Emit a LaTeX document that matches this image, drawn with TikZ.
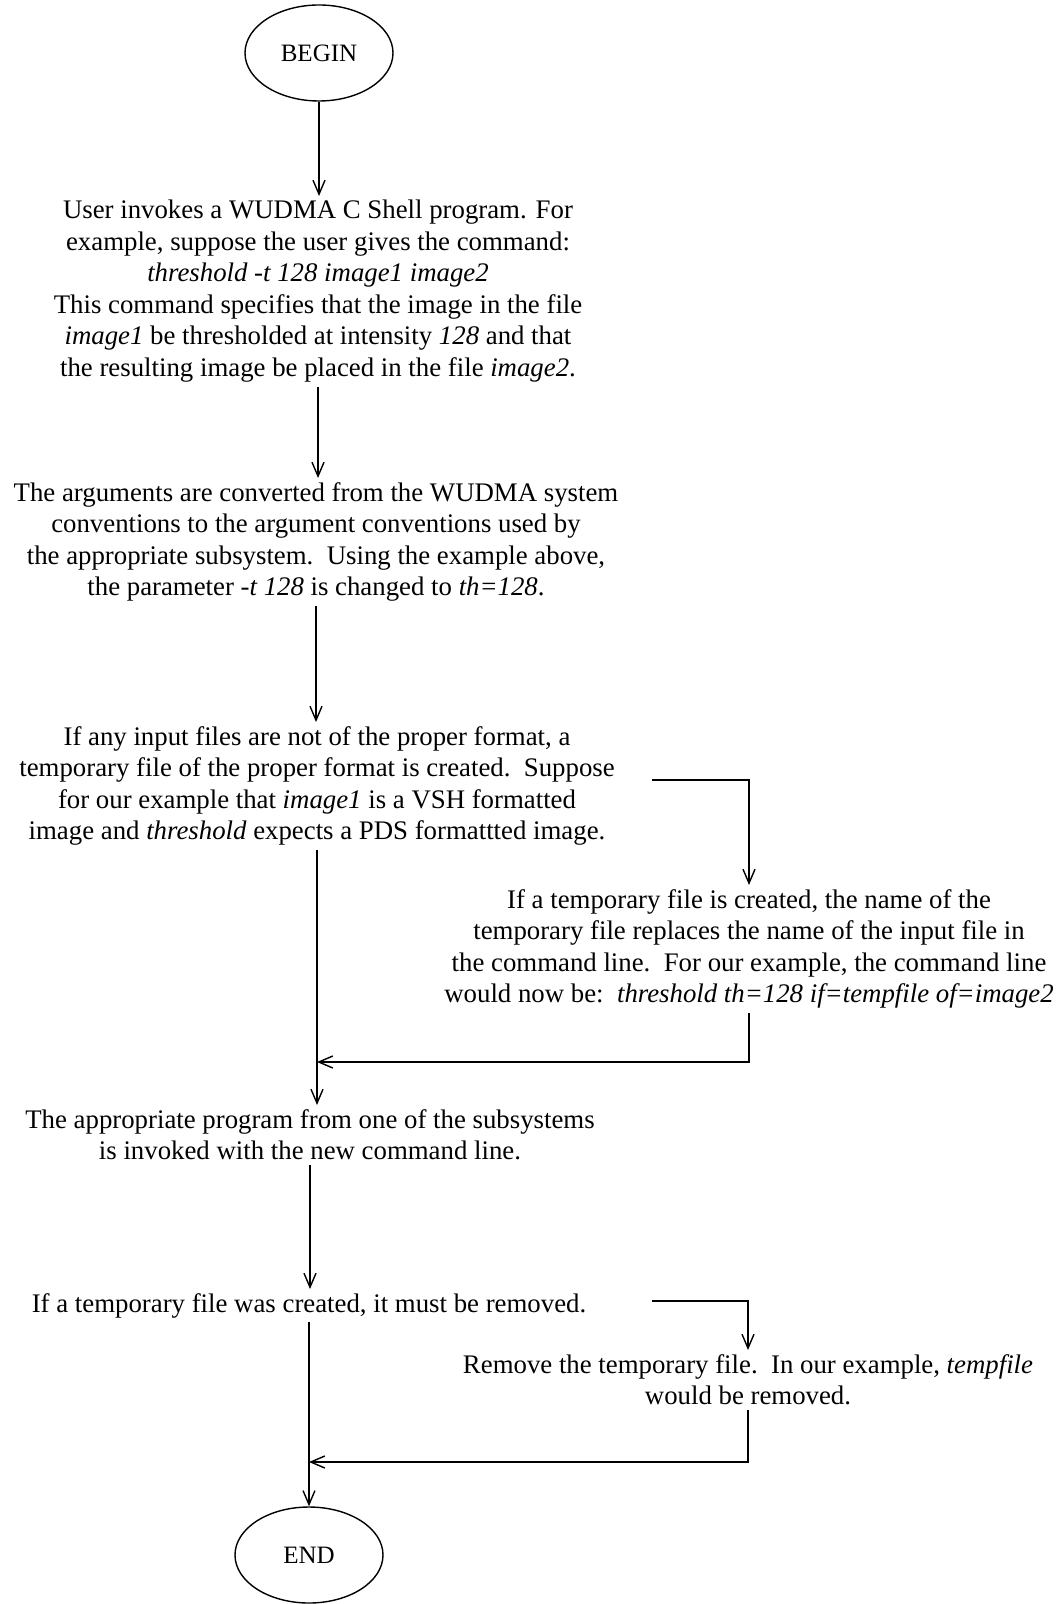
\documentclass[tikz,border=0pt]{standalone}
\usepackage{fontspec}
\setmainfont{Liberation Serif}
\usetikzlibrary{shapes.geometric, arrows.meta}
\tikzstyle{terminal} = [draw, ellipse, line width=0.7pt, minimum width=74pt, minimum height=48pt, inner sep=0pt, font=\fontsize{12.5}{15}\selectfont]
\tikzstyle{paso} = [align=center, inner sep=2pt, anchor=north, font=\fontsize{13.4}{15.75}\selectfont]
\tikzstyle{flecha} = [line width=0.7pt, -{Straight Barb[length=7pt,width=6pt]}]

\begin{document}
\begin{tikzpicture}[x=0.5pt, y=-0.5pt]
	\useasboundingbox (0,0) rectangle (1061,1604);
	\node [terminal] (begin) at (319,53) {BEGIN};
	\node [paso] (invoca) at (318,196) {User invokes a WUDMA C Shell program. For\\
		example, suppose the user gives the command:\\
		\textit{threshold -t 128 image1 image2}\\
		This command specifies that the image in the file\\
		\textit{image1} be thresholded at intensity \textit{128} and that\\
		the resulting image be placed in the file \textit{image2}.};
	\node [paso] (convierte) at (316,478) {The arguments are converted from the WUDMA system\\
		conventions to the argument conventions used by\\
		the appropriate subsystem.\ \ Using the example above,\\
		the parameter \textit{-t 128} is changed to \textit{th=128}.};
	\node [paso] (formato) at (317,722) {If any input files are not of the proper format, a\\
		temporary file of the proper format is created.\ \ Suppose\\
		for our example that \textit{image1} is a VSH formatted\\
		image and \textit{threshold} expects a PDS formattted image.};
	\node [paso] (reemplaza) at (749,885) {If a temporary file is created, the name of the\\
		temporary file replaces the name of the input file in\\
		the command line.\ \ For our example, the command line\\
		would now be:\ \ \textit{threshold th=128 if=tempfile of=image2}};
	\node [paso] (programa) at (310,1105) {The appropriate program from one of the subsystems\\
		is invoked with the new command line.};
	\node [paso] (borrar) at (309,1289) {If a temporary file was created, it must be removed.};
	\node [paso] (remover) at (748,1350) {Remove the temporary file.\ \ In our example, \textit{tempfile}\\
		would be removed.};
	\node [terminal] (end) at (309,1555) {END};
	\coordinate (rama1) at (652,780);
	\coordinate (rama2) at (652,1301);
	\coordinate (junta1) at (317,1062);
	\coordinate (junta2) at (309,1462);

	\draw [flecha] (begin.south) -- (begin.south |- invoca.north);
	\draw [flecha] (invoca.south) -- (invoca.south |- convierte.north);
	\draw [flecha] (convierte.south) -- (convierte.south |- formato.north);
	\draw [flecha] (rama1) -| (reemplaza.north);
	\draw [flecha] (formato.south) -- (formato.south |- programa.north);
	\draw [flecha] (reemplaza.south) |- (junta1);
	\draw [flecha] (programa.south) -- (programa.south |- borrar.north);
	\draw [flecha] (rama2) -| (remover.north);
	\draw [flecha] (borrar.south) -- (end.north);
	\draw [flecha] (remover.south) |- (junta2);
\end{tikzpicture}
\end{document}
